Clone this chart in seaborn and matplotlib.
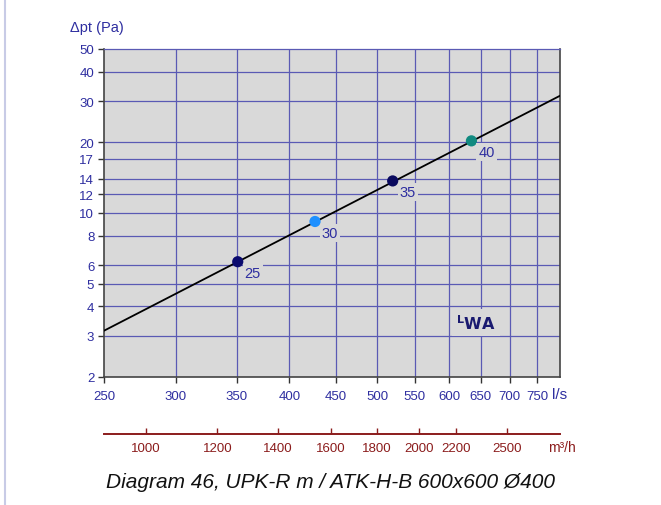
import numpy as np
import pandas as pd
import matplotlib
matplotlib.use("Agg")
import matplotlib.pyplot as plt
from matplotlib.lines import Line2D
import seaborn as sns

# system curve (straight in log-log), read at the plot edges
curve_flow = [250, 800]
curve_dp = [3.15, 32.0]

# operating points with sound power level LWA
point_flow = [351, 427, 520, 635]
point_dp = [6.2, 9.2, 13.7, 20.3]
point_lwa = ["25", "30", "35", "40"]
point_colors = ["#0a0a6e", "#1e90ff", "#0a0a5e", "#118a80"]

x_ticks = [250, 300, 350, 400, 450, 500, 550, 600, 650, 700, 750]
y_ticks = [2, 3, 4, 5, 6, 8, 10, 12, 14, 17, 20, 30, 40, 50]
m3h_ticks = [1000, 1200, 1400, 1600, 1800, 2000, 2200, 2500]

blue_txt = "#2e2ea0"
grid_col = "#5a5ab4"
red_col = "#8b1c1c"

sns.set_theme(style="ticks")
plt.rcParams["font.family"] = ["Liberation Sans", "DejaVu Sans"]

fig = plt.figure(figsize=(6.61, 5.06), dpi=100)
ax = fig.add_axes([104 / 661, 1 - 378 / 506, 456 / 661, 328 / 506])
ax.set_facecolor("#d9d9d9")

ax.set_xscale("log")
ax.set_yscale("log")
ax.set_xlim(250, 795)
ax.set_ylim(2, 50)

ax.set_xticks(x_ticks)
ax.set_xticklabels([str(v) for v in x_ticks])
ax.set_yticks(y_ticks)
ax.set_yticklabels([str(v) for v in y_ticks])
ax.minorticks_off()

for v in x_ticks[1:]:
    ax.axvline(v, color=grid_col, lw=0.9, zorder=1)
for v in y_ticks[1:-1]:
    ax.axhline(v, color=grid_col, lw=0.9, zorder=1)

curve = pd.DataFrame({"flow": curve_flow, "dp": curve_dp})
sns.lineplot(data=curve, x="flow", y="dp", ax=ax, color="black", lw=1.3, zorder=3)

pts = pd.DataFrame({"flow": point_flow, "dp": point_dp, "lwa": point_lwa})
sns.scatterplot(data=pts, x="flow", y="dp", hue="lwa", palette=point_colors,
                s=65, edgecolor="none", legend=False, ax=ax, zorder=4)

for f, d, lab in zip(point_flow, point_dp, point_lwa):
    ax.annotate(lab, (f, d), xytext=(5, -8), textcoords="offset points",
                ha="left", va="center", fontsize=10.5, color=blue_txt, zorder=5,
                bbox=dict(facecolor="#d9d9d9", edgecolor="none", pad=1.5))

ax.text(0.815, 0.165, r"$^{\mathbf{L}}\mathbf{WA}$", transform=ax.transAxes,
        ha="center", va="center", fontsize=11.5, color="#1a1a70", zorder=5,
        bbox=dict(facecolor="#d9d9d9", edgecolor="none", pad=3))

ax.set_xlabel("")
ax.set_ylabel("")

for side in ["left", "bottom", "right"]:
    ax.spines[side].set_color("#444444")
    ax.spines[side].set_linewidth(1.2)
ax.spines["top"].set_color(grid_col)
ax.spines["top"].set_linewidth(0.9)
ax.spines["right"].set_visible(True)
ax.spines["top"].set_visible(True)

ax.tick_params(axis="both", direction="out", length=4, width=1, color="#333333",
               labelsize=9.5, labelcolor=blue_txt, pad=3)
ax.tick_params(axis="x", pad=5)

# second flow axis in m3/h
sec = ax.secondary_xaxis(-0.174, functions=(lambda q: q * 3.6, lambda q: q / 3.6))
sec.set_xticks(m3h_ticks)
sec.set_xticklabels([str(v) for v in m3h_ticks])
sec.minorticks_off()
sec.spines["bottom"].set_color(red_col)
sec.spines["bottom"].set_linewidth(1.4)
sec.tick_params(axis="x", direction="in", length=4, width=1, color=red_col,
                labelsize=9.5, labelcolor=red_col, pad=6)

fig.text(70 / 661, 1 - 28 / 506, "Δpt (Pa)", fontsize=10.5, color=blue_txt,
         ha="left", va="center")
fig.text(552 / 661, 1 - 395 / 506, "l/s", fontsize=11, color=blue_txt,
         ha="left", va="center")
fig.text(548 / 661, 1 - 448 / 506, "m³/h", fontsize=10, color=red_col,
         ha="left", va="center")
fig.text(331 / 661, 1 - 482 / 506, "Diagram 46, UPK-R m / ATK-H-B 600x600 Ø400",
         fontsize=15, style="italic", color="#111111", ha="center", va="center")

fig.add_artist(Line2D([5 / 661, 5 / 661], [0, 1], color="#c8cbe6", lw=1.5))

fig.savefig("out.png", dpi=100)
